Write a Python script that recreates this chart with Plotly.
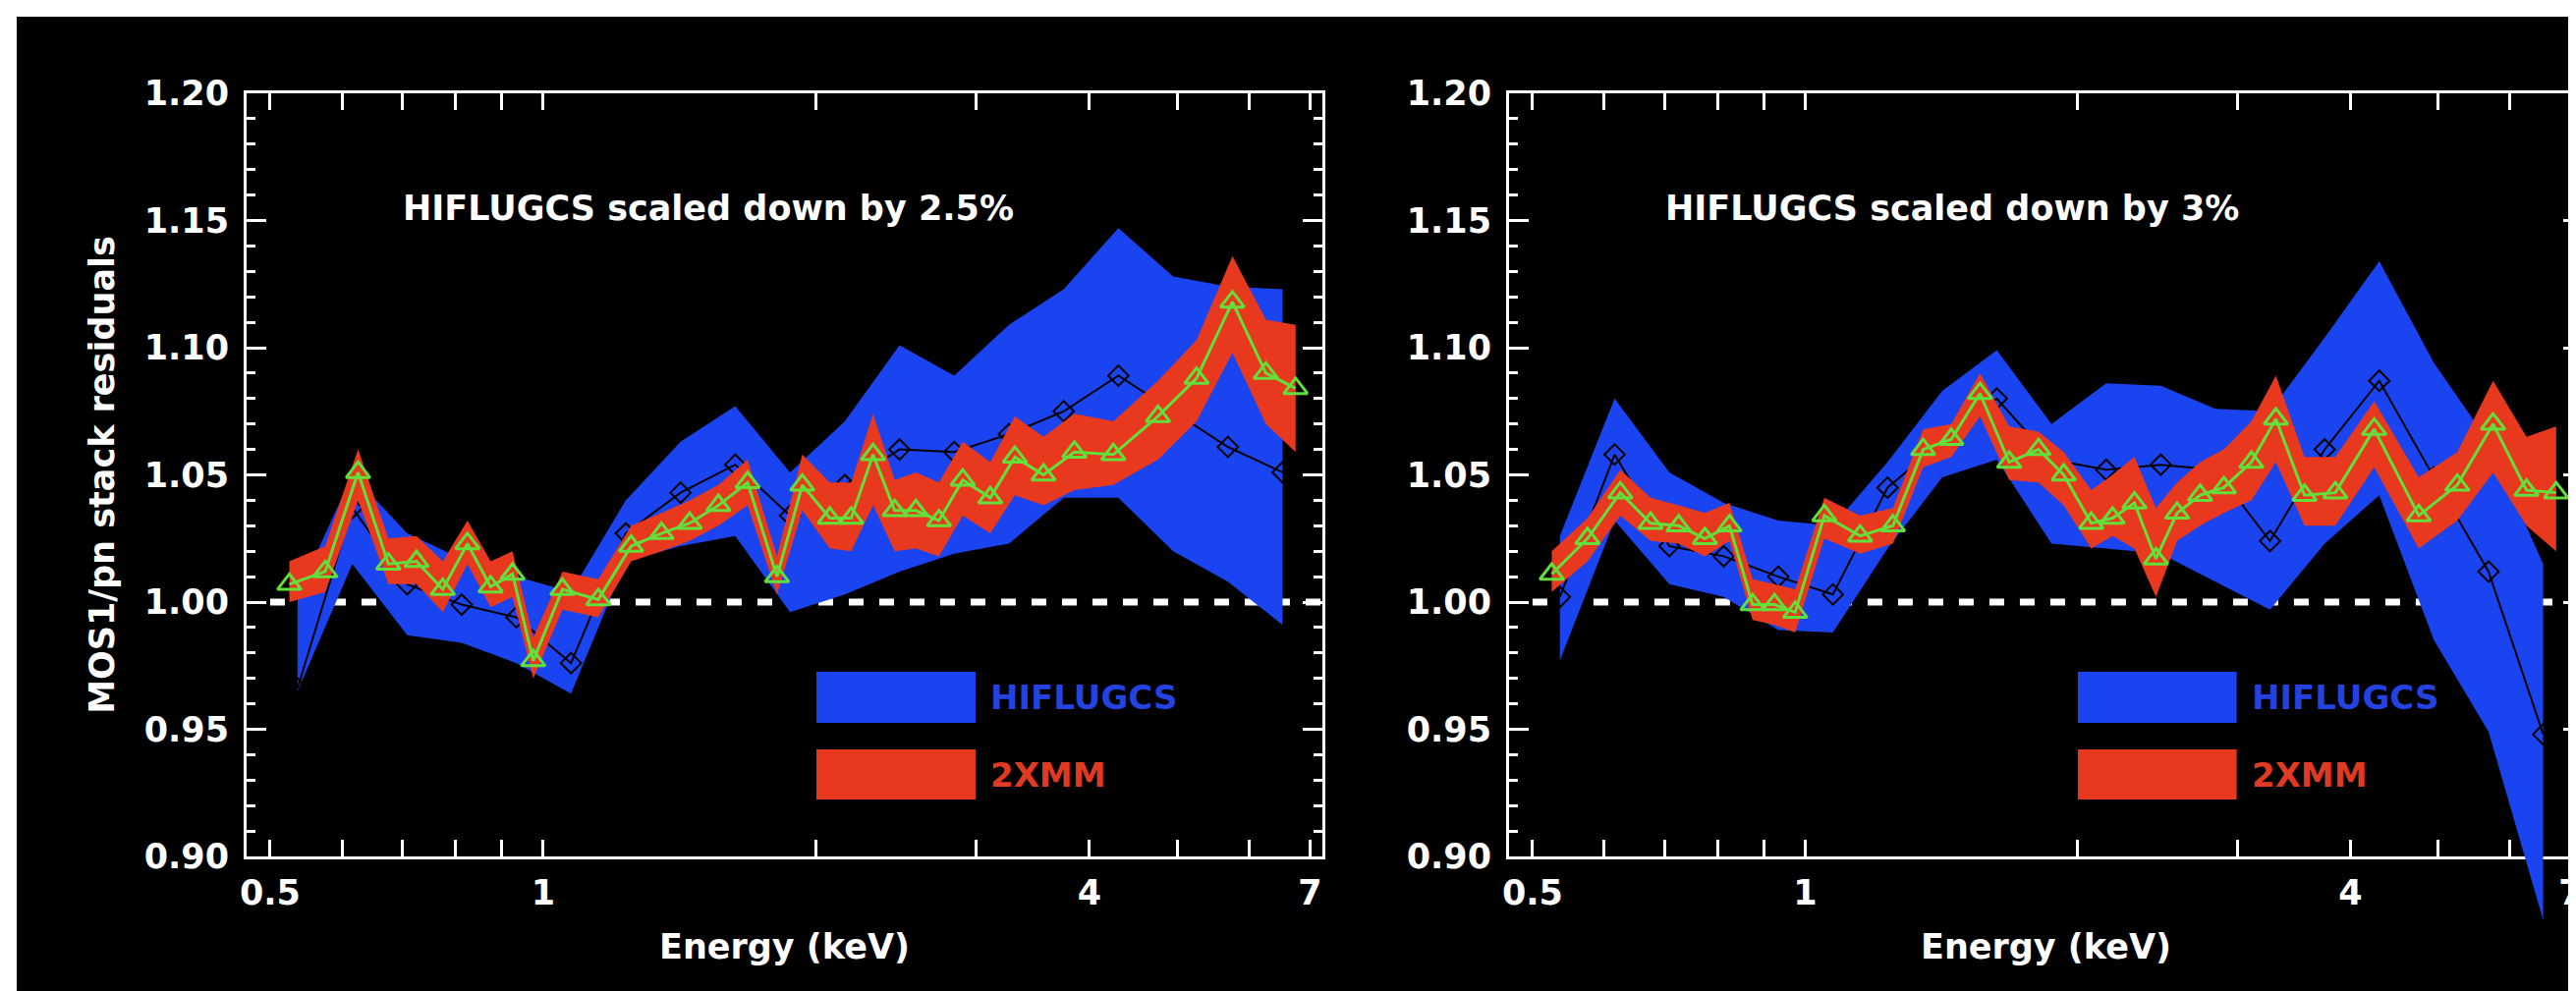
import math
import plotly.graph_objects as go

# ---------------- data ----------------
# HIFLUGCS energy bins (keV)
E_HIF = [0.536, 0.616, 0.708, 0.813, 0.934, 1.073, 1.233, 1.417, 1.628, 1.871,
         2.150, 2.470, 2.838, 3.261, 3.747, 4.305, 4.947, 5.684, 6.531]
# 2XMM energy bins (keV)
E_XMM = [0.525, 0.575, 0.625, 0.675, 0.725, 0.775, 0.825, 0.875, 0.925, 0.975,
         1.05, 1.15, 1.25, 1.35, 1.45, 1.56, 1.68, 1.81, 1.93, 2.07,
         2.185, 2.31, 2.44, 2.575, 2.73, 2.90, 3.11, 3.31, 3.56, 3.85,
         4.25, 4.76, 5.25, 5.75, 6.26, 6.75]

# Left panel: HIFLUGCS scaled down by 2.5%
L_HIF_MID = [0.966, 1.037, 1.007, 0.999, 0.994, 0.976, 1.027, 1.043, 1.054, 1.034,
             1.046, 1.060, 1.059, 1.066, 1.075, 1.089, 1.075, 1.061, 1.051]
L_HIF_HI = [1.003, 1.050, 1.027, 1.017, 1.010, 1.004, 1.040, 1.063, 1.077, 1.051,
            1.071, 1.101, 1.089, 1.109, 1.123, 1.147, 1.128, 1.124, 1.123]
L_HIF_LO = [0.965, 1.015, 0.987, 0.984, 0.976, 0.964, 1.016, 1.022, 1.026, 0.996,
            1.003, 1.012, 1.019, 1.023, 1.041, 1.041, 1.020, 1.008, 0.991]
L_XMM_MID = [1.007, 1.012, 1.051, 1.015, 1.016, 1.005, 1.023, 1.006, 1.011, 0.977,
             1.005, 1.001, 1.022, 1.027, 1.031, 1.038, 1.047, 1.010, 1.046, 1.033,
             1.033, 1.058, 1.036, 1.036, 1.032, 1.048, 1.041, 1.057, 1.050, 1.059,
             1.058, 1.073, 1.088, 1.118, 1.090, 1.084]
L_XMM_HI = [1.016, 1.022, 1.060, 1.025, 1.026, 1.016, 1.032, 1.016, 1.020, 0.986,
            1.012, 1.009, 1.030, 1.035, 1.040, 1.046, 1.056, 1.018, 1.058, 1.047,
            1.047, 1.074, 1.048, 1.051, 1.047, 1.063, 1.055, 1.073, 1.065, 1.074,
            1.071, 1.087, 1.103, 1.136, 1.111, 1.109]
L_XMM_LO = [1.000, 1.004, 1.040, 1.007, 1.007, 0.996, 1.015, 0.998, 1.002, 0.970,
            0.997, 0.994, 1.016, 1.020, 1.024, 1.030, 1.038, 1.003, 1.036, 1.021,
            1.020, 1.038, 1.020, 1.021, 1.018, 1.034, 1.027, 1.042, 1.038, 1.044,
            1.046, 1.056, 1.071, 1.098, 1.070, 1.059]

# Right panel: HIFLUGCS scaled down by 3%
R_HIF_MID = [1.002, 1.058, 1.022, 1.018, 1.010, 1.003, 1.045, 1.063, 1.080, 1.056,
             1.052, 1.054, 1.052, 1.024, 1.060, 1.087, 1.049, 1.012, 0.948]
R_HIF_HI = [1.026, 1.080, 1.051, 1.039, 1.032, 1.030, 1.055, 1.083, 1.099, 1.070,
            1.086, 1.085, 1.076, 1.075, 1.104, 1.134, 1.094, 1.063, 1.015]
R_HIF_LO = [0.977, 1.032, 1.007, 1.002, 0.989, 0.988, 1.021, 1.049, 1.056, 1.023,
            1.021, 1.019, 1.008, 0.997, 1.023, 1.042, 0.985, 0.949, 0.875]
R_XMM_MID = [1.011, 1.025, 1.043, 1.031, 1.030, 1.025, 1.030, 0.999, 0.999, 0.996,
             1.034, 1.026, 1.030, 1.060, 1.064, 1.082, 1.055, 1.060, 1.050, 1.031,
             1.033, 1.039, 1.017, 1.035, 1.042, 1.045, 1.055, 1.072, 1.042, 1.043,
             1.068, 1.034, 1.046, 1.070, 1.044, 1.043]
R_XMM_HI = [1.020, 1.033, 1.052, 1.041, 1.038, 1.035, 1.039, 1.009, 1.007, 1.005,
            1.041, 1.034, 1.037, 1.068, 1.070, 1.090, 1.069, 1.067, 1.059, 1.044,
            1.050, 1.057, 1.037, 1.047, 1.055, 1.060, 1.071, 1.089, 1.057, 1.057,
            1.079, 1.049, 1.059, 1.087, 1.065, 1.069]
R_XMM_LO = [1.004, 1.016, 1.034, 1.024, 1.023, 1.018, 1.024, 0.993, 0.991, 0.988,
            1.025, 1.019, 1.023, 1.053, 1.057, 1.073, 1.048, 1.047, 1.038, 1.021,
            1.026, 1.021, 1.002, 1.024, 1.030, 1.035, 1.040, 1.055, 1.030, 1.030,
            1.053, 1.021, 1.032, 1.051, 1.030, 1.020]

PANEL_TITLES = ["HIFLUGCS scaled down by 2.5%", "HIFLUGCS scaled down by 3%"]
LEGEND_LABELS = ["HIFLUGCS", "2XMM"]

X_TICKVALS = [0.5, 0.6, 0.7, 0.8, 0.9, 1, 2, 3, 4, 5, 6, 7]
X_TICKTEXT = ["0.5", "", "", "", "", "1", "", "", "4", "", "", "7"]
Y_TICKVALS = [0.90, 0.95, 1.00, 1.05, 1.10, 1.15, 1.20]
Y_TICKTEXT = ["0.90", "0.95", "1.00", "1.05", "1.10", "1.15", "1.20"]
X_LIMITS = [0.471, 7.225]
Y_LIMITS = [0.90, 1.20]
REF_X = [0.5, 7.225]
REF_Y = [1.0, 1.0]

# ---------------- style / layout ----------------
W, H = 2622, 1009
ML, MR, MT, MB = 0, 0, 87, 60
PH = H - MT - MB                    # paper height in px
AX_BOTTOM_PX = 864                  # pixel row of the x axis line
AX_H = AX_BOTTOM_PX - MT            # plot height in px
Y_DOM = [(H - MB - AX_BOTTOM_PX) / PH, 1.0]
Y_PER_PX = (Y_LIMITS[1] - Y_LIMITS[0]) / AX_H
Y3_RANGE = [Y_LIMITS[0] - (H - MB - AX_BOTTOM_PX) * Y_PER_PX, Y_LIMITS[1]]
X_DOM_L = [243 / W, 1338 / W]
X_DOM_R = [1528 / W, 2621 / W]

BLUE = "#1a44f0"
RED = "#e8391f"
GREEN = "#62e03a"
FONT = "DejaVu Sans"
FS = 35


def tfont(color="white", size=FS):
    return dict(family=FONT, size=size, color=color, weight="bold")


fig = go.Figure()


def band(x, lo, hi):
    return list(x) + list(x)[::-1], list(hi) + list(lo)[::-1]


def add_panel(xa, ya_ref, ya, hif_mid, hif_hi, hif_lo, xmm_mid, xmm_hi, xmm_lo):
    # reference line lives on the visible axis pair (drawn beneath the bands)
    fig.add_trace(go.Scatter(x=REF_X, y=REF_Y, mode="lines", xaxis=xa, yaxis=ya_ref,
                             line=dict(color="white", width=7, dash="15px,16px"),
                             hoverinfo="skip", showlegend=False))
    bx, by = band(E_HIF, hif_lo, hif_hi)
    fig.add_trace(go.Scatter(x=bx, y=by, mode="lines", fill="toself", fillcolor=BLUE,
                             line=dict(width=0, color=BLUE), xaxis=xa, yaxis=ya,
                             name=LEGEND_LABELS[0], showlegend=False))
    fig.add_trace(go.Scatter(x=E_HIF, y=hif_mid, mode="lines+markers", xaxis=xa, yaxis=ya,
                             line=dict(color="black", width=2),
                             marker=dict(symbol="diamond-open", size=16,
                                         line=dict(color="black", width=2)),
                             showlegend=False))
    rx, ry = band(E_XMM, xmm_lo, xmm_hi)
    fig.add_trace(go.Scatter(x=rx, y=ry, mode="lines", fill="toself", fillcolor=RED,
                             line=dict(width=0, color=RED), xaxis=xa, yaxis=ya,
                             name=LEGEND_LABELS[1], showlegend=False))
    fig.add_trace(go.Scatter(x=E_XMM, y=xmm_mid, mode="lines+markers", xaxis=xa, yaxis=ya,
                             line=dict(color=GREEN, width=3),
                             marker=dict(symbol="triangle-up-open", size=21,
                                         line=dict(color=GREEN, width=3)),
                             showlegend=False))


add_panel("x", "y", "y", L_HIF_MID, L_HIF_HI, L_HIF_LO, L_XMM_MID, L_XMM_HI, L_XMM_LO)
add_panel("x2", "y2", "y3", R_HIF_MID, R_HIF_HI, R_HIF_LO, R_XMM_MID, R_XMM_HI, R_XMM_LO)

xrange_log = [math.log10(X_LIMITS[0]), math.log10(X_LIMITS[1])]

common_x = dict(type="log", range=xrange_log, tickmode="array", tickvals=X_TICKVALS,
                ticktext=X_TICKTEXT, ticks="inside", ticklen=17, tickwidth=3,
                tickcolor="white", showline=True, linecolor="white", linewidth=3,
                mirror="ticks", showgrid=False, zeroline=False, automargin=False,
                tickfont=tfont(), ticklabelstandoff=4)
common_y = dict(range=Y_LIMITS, tickmode="array", tickvals=Y_TICKVALS,
                ticktext=Y_TICKTEXT, ticks="inside", ticklen=20, tickwidth=3,
                tickcolor="white", showline=True, linecolor="white", linewidth=3,
                mirror="ticks", showgrid=False, zeroline=False, automargin=False,
                tickfont=tfont(), ticklabelstandoff=8, domain=Y_DOM,
                minor=dict(dtick=0.01, tick0=0.9, ticks="inside", ticklen=9,
                           tickwidth=3, tickcolor="white", showgrid=False))

fig.update_layout(
    width=W, height=H,
    margin=dict(l=ML, r=MR, t=MT, b=MB),
    paper_bgcolor="black", plot_bgcolor="rgba(0,0,0,0)",
    showlegend=False,
    xaxis=dict(common_x, domain=X_DOM_L, anchor="y",
               title=dict(text="Energy (keV)", standoff=24, font=tfont())),
    yaxis=dict(common_y, anchor="x",
               title=dict(text="MOS1/pn stack residuals", standoff=20, font=tfont())),
    xaxis2=dict(common_x, domain=X_DOM_R, anchor="y2",
                title=dict(text="Energy (keV)", standoff=24, font=tfont())),
    yaxis2=dict(common_y, anchor="x2"),
    yaxis3=dict(range=Y3_RANGE, domain=[0, 1], anchor="x2", visible=False,
                showgrid=False, zeroline=False),
)

# panel titles and legend boxes
for i, (xd, yd) in enumerate([("x domain", "y domain"), ("x2 domain", "y2 domain")]):
    fig.add_annotation(text=PANEL_TITLES[i], xref=xd, yref=yd, x=0.1434, y=0.8494,
                       xanchor="left", yanchor="middle", showarrow=False, font=tfont())
    fig.add_shape(type="rect", xref=xd, yref=yd, x0=0.5297, x1=0.6776, y0=0.1750, y1=0.2420,
                  fillcolor=BLUE, line=dict(width=0))
    fig.add_shape(type="rect", xref=xd, yref=yd, x0=0.5297, x1=0.6776, y0=0.0746, y1=0.1403,
                  fillcolor=RED, line=dict(width=0))
    fig.add_annotation(text=LEGEND_LABELS[0], xref=xd, yref=yd, x=0.6895, y=0.2085,
                       xanchor="left", yanchor="middle", showarrow=False,
                       font=tfont("#2342e0", 34))
    fig.add_annotation(text=LEGEND_LABELS[1], xref=xd, yref=yd, x=0.6895, y=0.1068,
                       xanchor="left", yanchor="middle", showarrow=False,
                       font=tfont("#e03a22", 34))

# thin white frame of the original image (top and left edges)
fig.add_shape(type="rect", xref="paper", yref="paper", x0=0, x1=1,
              y0=(H - MB - 9) / PH, y1=(H - MB) / PH, fillcolor="white", line=dict(width=0))
fig.add_shape(type="rect", xref="paper", yref="paper", x0=0, x1=9 / W,
              y0=-MB / PH, y1=(H - MB) / PH, fillcolor="white", line=dict(width=0))

fig.write_html("out.html")
